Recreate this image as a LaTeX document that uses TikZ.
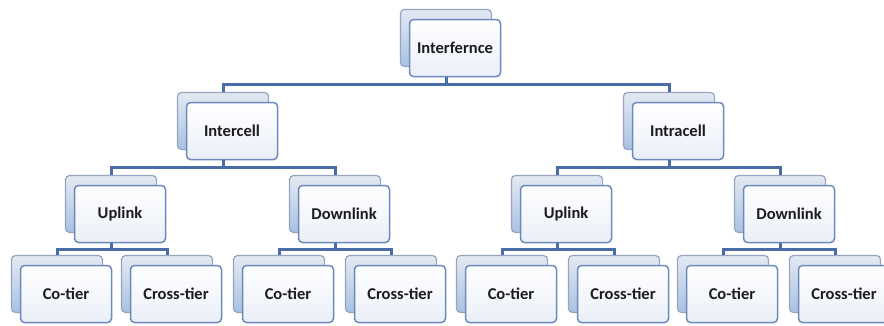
\documentclass[tikz,border=0pt]{standalone}
\usepackage{fontspec}
\setmainfont{Carlito}
\definecolor{linkblue}{RGB}{74,108,168}
\definecolor{backedge}{RGB}{150,166,194}
\definecolor{backtop}{RGB}{228,233,242}
\definecolor{backbot}{RGB}{168,193,226}
\definecolor{frontedge}{RGB}{108,138,188}
\definecolor{frontbot}{RGB}{234,239,247}
\definecolor{inktext}{RGB}{28,28,28}
\tikzset{
  backbox/.style={draw=backedge, line width=1.2pt, rounded corners=4pt,
    top color=backtop, bottom color=backbot, minimum width=91pt, minimum height=57pt,
    inner sep=0pt},
  frontbox/.style={draw=frontedge, line width=1.5pt, rounded corners=4pt,
    top color=white, bottom color=frontbot, minimum width=91pt, minimum height=57pt,
    inner sep=0pt, font=\fontsize{16.5}{19}\selectfont\bfseries, text=inktext},
  link/.style={draw=linkblue, line width=3pt}
}
% a stacked pair of cards: back card centred at (#2,#3), front card shifted down-right
\newcommand\cardpair[4]{%
  \node[backbox] (#1b) at (#2,#3) {};
  \node[frontbox] (#1) at (#2+9,#3+10) {#4};
}
% connector from a parent pair to a child pair through a bus line
\newcommand\joinpair[3]{%
  \draw[link] (#1b |- #1.south) -- ++(0,#3) -| (#2b.north);
}
\begin{document}
\begin{tikzpicture}[x=1pt,y=-1pt]
\useasboundingbox[fill=white] (0,0) rectangle (884,325);

% level 0
\cardpair{top}{446}{38}{Interfernce}
% level 1
\cardpair{inter}{223}{121}{Intercell}
\cardpair{intra}{669}{121}{Intracell}
% level 2
\cardpair{iup}{111}{204}{Uplink}
\cardpair{idown}{335}{204}{Downlink}
\cardpair{aup}{557}{204}{Uplink}
\cardpair{adown}{780}{204}{Downlink}
% level 3
\cardpair{iuco}{57}{284}{Co-tier}
\cardpair{iucr}{167}{284}{Cross-tier}
\cardpair{idco}{279}{284}{Co-tier}
\cardpair{idcr}{391}{284}{Cross-tier}
\cardpair{auco}{502}{284}{Co-tier}
\cardpair{aucr}{614}{284}{Cross-tier}
\cardpair{adco}{723}{284}{Co-tier}
\cardpair{adcr}{835}{284}{Cross-tier}

% connectors
\joinpair{top}{inter}{7.5}
\joinpair{top}{intra}{7.5}
\joinpair{inter}{iup}{7.5}
\joinpair{inter}{idown}{7.5}
\joinpair{intra}{aup}{7.5}
\joinpair{intra}{adown}{7.5}
\joinpair{iup}{iuco}{6}
\joinpair{iup}{iucr}{6}
\joinpair{idown}{idco}{6}
\joinpair{idown}{idcr}{6}
\joinpair{aup}{auco}{6}
\joinpair{aup}{aucr}{6}
\joinpair{adown}{adco}{6}
\joinpair{adown}{adcr}{6}
\end{tikzpicture}
\end{document}
